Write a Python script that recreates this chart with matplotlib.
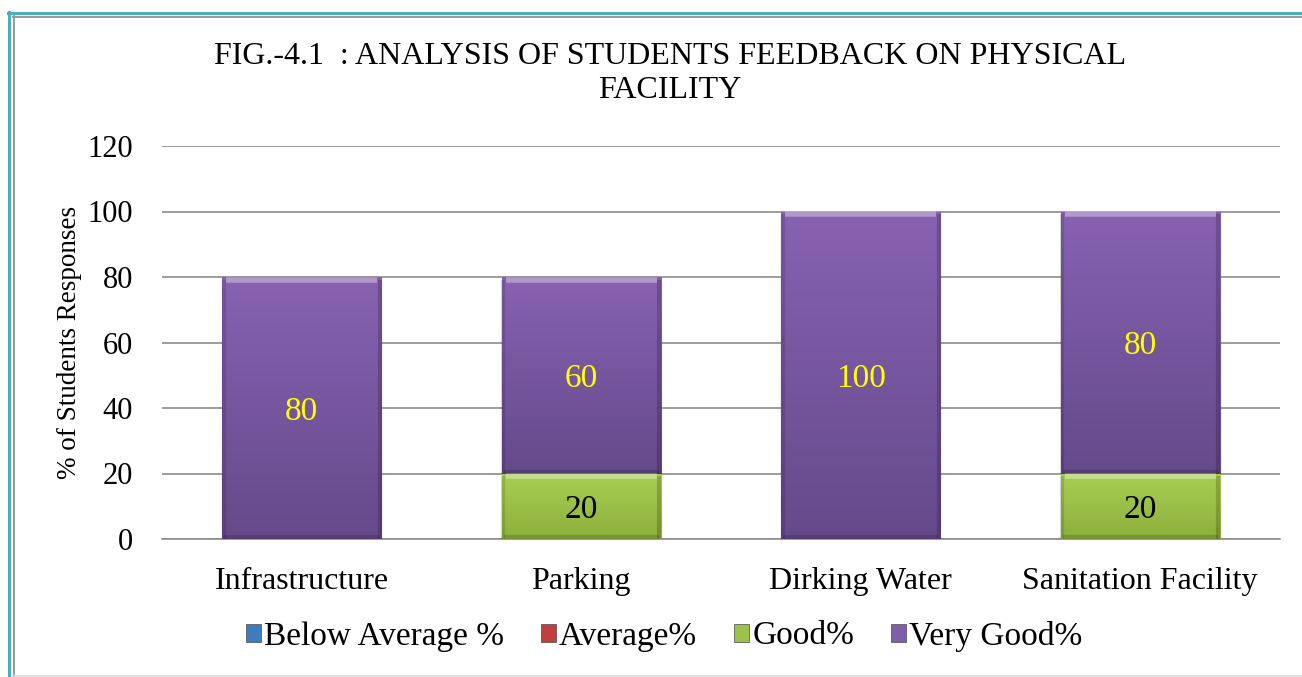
import numpy as np
import matplotlib.pyplot as plt
from matplotlib.lines import Line2D
from matplotlib.patches import Patch
from matplotlib.colors import LinearSegmentedColormap

plt.rcParams['font.family'] = ['Liberation Serif', 'DejaVu Serif']

categories = ['Infrastructure', 'Parking', 'Dirking Water', 'Sanitation Facility']
series_names = ['Below Average %', 'Average%', 'Good%', 'Very Good%']
below_avg = [0, 0, 0, 0]
average = [0, 0, 0, 0]
good = [0, 20, 0, 20]
very_good = [80, 60, 100, 80]

# colours: (top, bottom) of the gradient
colors = {
    'Below Average %': ('#5B9BD5', '#2E5F94'),
    'Average%': ('#D9504C', '#9B2A27'),
    'Good%': ('#A8CF52', '#8DB03C'),
    'Very Good%': ('#8762B2', '#654A8B'),
}
legend_colors = ['#3E7CC0', '#C0403D', '#9BC34A', '#7E5FA8']

W, H = 1302, 677
fig = plt.figure(figsize=(W / 100, H / 100), dpi=100)
ax = fig.add_axes([162 / W, 1 - 539 / H, (1280 - 162) / W, (539 - 146) / H])

x = np.arange(len(categories))
bottoms = np.zeros(len(categories))
grad = np.linspace(1, 0, 100).reshape(-1, 1)
for name, vals in zip(series_names, [below_avg, average, good, very_good]):
    top_c, bot_c = colors[name]
    cmap = LinearSegmentedColormap.from_list('g', [bot_c, top_c])
    bars = ax.bar(x, vals, width=0.57, bottom=bottoms, color=bot_c,
                  edgecolor='#3f3f3f', linewidth=0.8, zorder=3)
    for b, v in zip(bars, vals):
        if v == 0:
            continue
        x0, y0 = b.get_x(), b.get_y()
        bw, bh = b.get_width(), b.get_height()
        im = ax.imshow(grad, cmap=cmap, extent=[x0, x0 + bw, y0, y0 + bh],
                       aspect='auto', zorder=3.5, interpolation='bicubic')
        im.set_clip_path(b)
        # bevel: light top edge, darker sides/bottom
        ax.plot([x0 + 0.015, x0 + bw - 0.015], [y0 + bh - 0.9, y0 + bh - 0.9],
                color='white', alpha=0.35, lw=4, zorder=4, solid_capstyle='butt')
        ax.plot([x0 + 0.006, x0 + 0.006], [y0 + 0.5, y0 + bh - 1.5],
                color='black', alpha=0.12, lw=3, zorder=4)
        ax.plot([x0 + bw - 0.006, x0 + bw - 0.006], [y0 + 0.5, y0 + bh - 1.5],
                color='black', alpha=0.18, lw=3, zorder=4)
        ax.plot([x0 + 0.015, x0 + bw - 0.015], [y0 + 0.6, y0 + 0.6],
                color='black', alpha=0.15, lw=3, zorder=4)
        label_color = 'black' if name == 'Good%' else '#FFFF00'
        ax.text(x0 + bw / 2, y0 + bh / 2, f'{v:g}', ha='center', va='center_baseline',
                fontsize=24, color=label_color, zorder=5)
    bottoms += np.array(vals)

ax.set_xlim(-0.5, 3.5)
ax.set_ylim(0, 120)
ax.set_yticks(range(0, 121, 20))
ax.set_xticks(x)
ax.set_xticklabels(categories, fontsize=23)
ax.tick_params(axis='y', labelsize=22, length=0, pad=21)
ax.tick_params(axis='x', length=0, pad=20)
ax.grid(axis='y', color='#8c8c8c', linewidth=1.2, zorder=0)
for s in ['top', 'right', 'left']:
    ax.spines[s].set_visible(False)
ax.spines['bottom'].set_color('#8c8c8c')
ax.spines['bottom'].set_linewidth(1.2)
ax.set_ylabel('% of Students Responses', fontsize=19.5, labelpad=4)

fig.text(670 / W, 1 - 56 / H, 'FIG.-4.1  : ANALYSIS OF STUDENTS FEEDBACK ON PHYSICAL',
         ha='center', va='center', fontsize=23)
fig.text(670 / W, 1 - 91 / H, 'FACILITY', ha='center', va='center', fontsize=23)

handles = [Patch(facecolor=c, edgecolor='#4a4a4a', linewidth=0.5) for c in legend_colors]
fig.legend(handles, series_names, loc='center', bbox_to_anchor=(664 / W, 1 - 636 / H),
           ncol=4, frameon=False, fontsize=24, handlelength=0.45, handleheight=0.45,
           handletextpad=0.1, columnspacing=1.1)

# outer border
def fline(x0, y0, x1, y1, color, lw):
    fig.add_artist(Line2D([x0 / W, x1 / W], [1 - y0 / H, 1 - y1 / H],
                          color=color, linewidth=lw, transform=fig.transFigure))

fline(8, 12.5, W, 12.5, '#4BACC6', 2.2)
fline(9, 12, 9, H, '#4BACC6', 2.2)
fline(13, 16.5, W, 16.5, '#9a9a9a', 1.4)
fline(13.5, 16, 13.5, H, '#9a9a9a', 1.4)
fline(13, 676, W, 676, '#d9d9d9', 1.2)

fig.savefig('out.png', dpi=100)
